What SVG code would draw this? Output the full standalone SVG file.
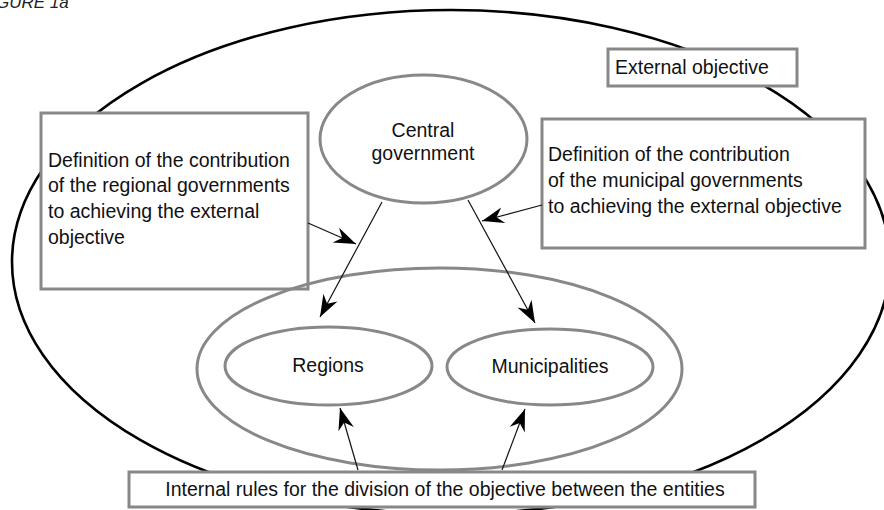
<svg xmlns="http://www.w3.org/2000/svg" width="884" height="510" viewBox="0 0 884 510">
<style>
.t{font-family:"Liberation Sans",Arial,sans-serif;font-size:19.5px;fill:#111}
.g{fill:#fff;stroke:#888;stroke-width:3}
.c{stroke:#111;stroke-width:1.2;fill:none}
</style>
<defs>
<marker id="ah" viewBox="-23 -9 24 18" refX="0" refY="0" markerWidth="24" markerHeight="18" markerUnits="userSpaceOnUse" orient="auto">
<path d="M0,0 L-22,-8 L-15,0 L-22,8 Z" fill="#000"/>
</marker>
</defs>
<rect width="884" height="510" fill="#fff"/>
<text x="-4" y="8" style="font-family:'Liberation Sans',Arial,sans-serif;font-size:17px;font-style:italic;fill:#222">GURE 1a</text>
<g id="outer">
<ellipse cx="451" cy="262" rx="439" ry="252" fill="none" stroke="#000" stroke-width="2.6"/>
</g>
<g id="external-objective">
<rect class="g" x="608" y="49" width="189" height="37"/>
<text class="t" x="615" y="74">External objective</text>
</g>
<g id="central">
<ellipse class="g" cx="423.5" cy="139" rx="103.5" ry="64"/>
<text class="t" x="423" y="137" text-anchor="middle">Central</text>
<text class="t" x="423" y="160" text-anchor="middle">government</text>
</g>
<g id="left-box">
<rect class="g" x="41" y="113" width="267" height="176"/>
<text class="t" x="48" y="167">Definition of the contribution</text>
<text class="t" x="48" y="192">of the regional governments</text>
<text class="t" x="48" y="218">to achieving the external</text>
<text class="t" x="48" y="244">objective</text>
</g>
<g id="right-box">
<rect class="g" x="542" y="119" width="323" height="129"/>
<text class="t" x="548" y="161">Definition of the contribution</text>
<text class="t" x="548" y="187">of the municipal governments</text>
<text class="t" x="548" y="213">to achieving the external objective</text>
</g>
<g id="entities">
<ellipse cx="439.5" cy="369" rx="242.5" ry="101" fill="none" stroke="#888" stroke-width="3"/>
</g>
<g id="regions">
<ellipse class="g" cx="328.5" cy="366" rx="103.5" ry="39"/>
<text class="t" x="328" y="372" text-anchor="middle">Regions</text>
</g>
<g id="municipalities">
<ellipse class="g" cx="550" cy="367" rx="103" ry="38"/>
<text class="t" x="550" y="373" text-anchor="middle">Municipalities</text>
</g>
<g id="bottom-box">
<rect class="g" x="129" y="472" width="626" height="35"/>
<text class="t" x="445" y="496" text-anchor="middle">Internal rules for the division of the objective between the entities</text>
</g>
<g id="connectors">
<line class="c" x1="382" y1="202" x2="320" y2="317" marker-end="url(#ah)"/>
<line class="c" x1="468" y1="200" x2="535" y2="323" marker-end="url(#ah)"/>
<line class="c" x1="308" y1="223" x2="356" y2="244" marker-end="url(#ah)"/>
<line class="c" x1="542" y1="205" x2="482" y2="221" marker-end="url(#ah)"/>
<line class="c" x1="358" y1="470" x2="340" y2="408" marker-end="url(#ah)"/>
<line class="c" x1="502" y1="470" x2="525" y2="409" marker-end="url(#ah)"/>
</g>
</svg>
